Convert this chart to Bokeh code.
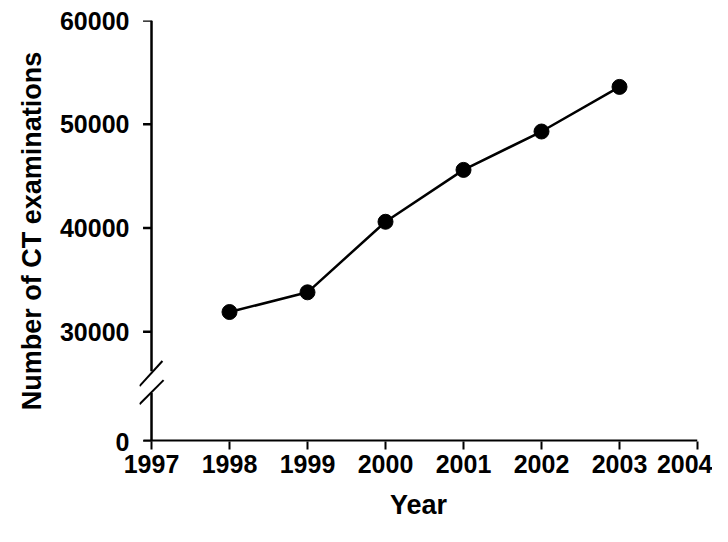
from bokeh.plotting import figure
from bokeh.models import FixedTicker, Range1d
from bokeh.embed import file_html
from bokeh.resources import INLINE

years = [1998, 1999, 2000, 2001, 2002, 2003]
exams = [31900, 33800, 40600, 45600, 49300, 53600]

# broken axis: the "0" tick sits at this position of the linear scale
zero_pos = 19420
y_ticks = [zero_pos, 30000, 40000, 50000, 60000]
y_labels = {zero_pos: "0", 30000: "30000", 40000: "40000", 50000: "50000", 60000: "60000"}
x_ticks = [1997, 1998, 1999, 2000, 2001, 2002, 2003, 2004]

FONT = "Liberation Sans"
X0 = 1996.846  # frame starts a little left of the y axis so the break marks fit

p = figure(width=712, height=526, output_backend="svg", toolbar_location=None,
           x_range=Range1d(X0, 2004), y_range=Range1d(zero_pos, 60000),
           min_border_left=139, min_border_right=15, min_border_top=20,
           min_border_bottom=85)
p.outline_line_color = None
p.grid.grid_line_color = None
p.background_fill_color = "white"

for ax in (p.xaxis, p.yaxis):
    ax.major_label_text_font = FONT
    ax.major_label_text_font_style = "bold"
    ax.major_label_text_font_size = "25px"
    ax.major_label_text_color = "black"
    ax.axis_label_text_font = FONT
    ax.axis_label_text_font_style = "bold"
    ax.axis_label_text_font_size = "27px"
    ax.axis_label_text_color = "black"
    ax.major_tick_line_width = 2
    ax.major_tick_in = 0
    ax.major_tick_out = 8
    ax.minor_tick_line_color = None
    ax.axis_line_color = None

p.xaxis.ticker = FixedTicker(ticks=x_ticks)
p.xaxis.axis_label = "Year"
p.xaxis.axis_label_standoff = 14
p.yaxis.ticker = FixedTicker(ticks=y_ticks)
p.yaxis.major_label_overrides = y_labels
p.yaxis.major_tick_line_color = None
p.yaxis.major_tick_out = 0
p.yaxis.major_label_standoff = 10
p.yaxis.axis_label = "Number of CT examinations"
p.yaxis.axis_label_standoff = 10

# hand-drawn axes: y ticks, x baseline, y line with a gap and break marks
p.scatter([1996.949] * len(y_ticks), y_ticks, marker="dash", size=9,
          line_color="black", line_width=2.5)
p.segment(x0=[X0 + 0.05], y0=[zero_pos], x1=[2004], y1=[zero_pos],
          line_color="black", line_width=4)
p.segment(x0=[1997, 1997], y0=[zero_pos, 26200], x1=[1997, 1997], y1=[24100, 60000],
          line_color="black", line_width=2.5)
p.segment(x0=[X0, X0], y0=[24760, 23010], x1=[1997.14, 1997.155], y1=[27180, 25340],
          line_color="black", line_width=2)

p.line(years, exams, line_color="black", line_width=2.5)
p.scatter(years, exams, size=15, color="black")

open("out.html", "w").write(file_html(p, INLINE))
